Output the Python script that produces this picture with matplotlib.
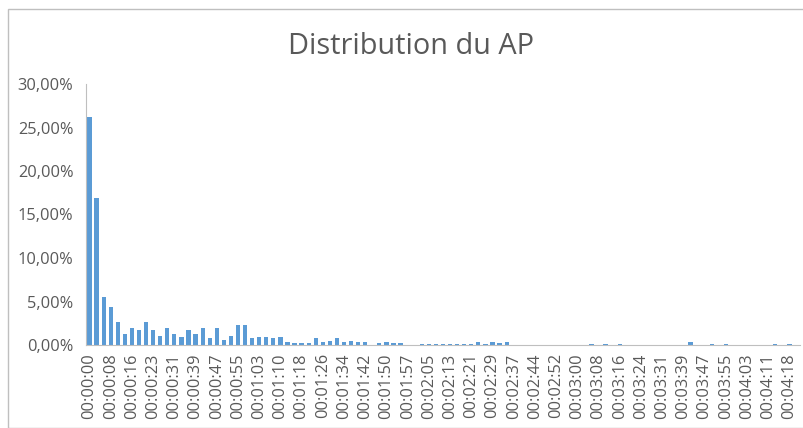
import matplotlib.pyplot as plt
from matplotlib.patches import Rectangle
from matplotlib.ticker import FuncFormatter

# share of AP per time bin (percent), one bin every ~2.6 s
ap_pct = [
    26.2, 16.9, 5.5, 4.4, 2.6, 1.3, 2.0, 1.7, 2.7, 1.7,
    1.0, 1.9, 1.3, 0.9, 1.7, 1.3, 2.0, 0.8, 1.9, 0.6,
    1.0, 2.3, 2.3, 0.8, 0.9, 0.9, 0.8, 0.9, 0.3, 0.2,
    0.2, 0.2, 0.8, 0.3, 0.5, 0.8, 0.3, 0.5, 0.3, 0.3,
    0.0, 0.2, 0.3, 0.2, 0.2, 0.05, 0.0, 0.15, 0.15, 0.15,
    0.15, 0.15, 0.1, 0.1, 0.1, 0.3, 0.15, 0.3, 0.2, 0.3,
    0.0, 0.0, 0.0, 0.0, 0.0, 0.0, 0.0, 0.0, 0.0, 0.0,
    0.0, 0.1, 0.0, 0.1, 0.0, 0.1, 0.0, 0.0, 0.0, 0.0,
    0.0, 0.0, 0.0, 0.0, 0.0, 0.3, 0.0, 0.0, 0.1, 0.0,
    0.1, 0.0, 0.0, 0.0, 0.0, 0.0, 0.0, 0.1, 0.0, 0.1,
    0.0,
]

# every third bin gets a label
tick_labels = [
    "00:00:00", "00:00:08", "00:00:16", "00:00:23", "00:00:31", "00:00:39",
    "00:00:47", "00:00:55", "00:01:03", "00:01:10", "00:01:18", "00:01:26",
    "00:01:34", "00:01:42", "00:01:50", "00:01:57", "00:02:05", "00:02:13",
    "00:02:21", "00:02:29", "00:02:37", "00:02:44", "00:02:52", "00:03:00",
    "00:03:08", "00:03:16", "00:03:24", "00:03:31", "00:03:39", "00:03:47",
    "00:03:55", "00:04:03", "00:04:11", "00:04:18",
]

txt = "#595959"
font = "Open Sans"

fig = plt.figure(figsize=(8.04, 4.28), dpi=100)
fig.patches.append(Rectangle((8 / 804, 0), 1, (428 - 9) / 428, transform=fig.transFigure,
                             fill=False, edgecolor="#bfbfbf", linewidth=1))

ax = fig.add_axes([86 / 804, (428 - 345) / 428, (800 - 86) / 804, (345 - 84) / 428])
x = list(range(len(ap_pct)))
ax.bar(x, ap_pct, width=0.6, color="#5B9BD5")

ax.set_xlim(-0.5, len(ap_pct) - 0.5)
ax.set_ylim(0, 30)
ax.set_yticks([0, 5, 10, 15, 20, 25, 30])
ax.yaxis.set_major_formatter(FuncFormatter(lambda v, p: f"{v:.2f}%".replace(".", ",")))
ax.set_xticks(x[::3][:len(tick_labels)])
ax.set_xticklabels(tick_labels, rotation=90)

for s in ["top", "right"]:
    ax.spines[s].set_visible(False)
ax.spines["left"].set_color("#bfbfbf")
ax.spines["bottom"].set_color("#bfbfbf")
ax.tick_params(axis="both", length=0, colors=txt)
ax.tick_params(axis="y", pad=9, labelsize=11.8)
ax.tick_params(axis="x", pad=6, labelsize=11.8)
for lab in ax.get_xticklabels() + ax.get_yticklabels():
    lab.set_fontfamily(font)

fig.text(411 / 804, 1 - 46 / 428, "Distribution du AP", ha="center", va="center",
         fontsize=20.8, color=txt, fontfamily=font)

fig.savefig("out.png", dpi=100)
